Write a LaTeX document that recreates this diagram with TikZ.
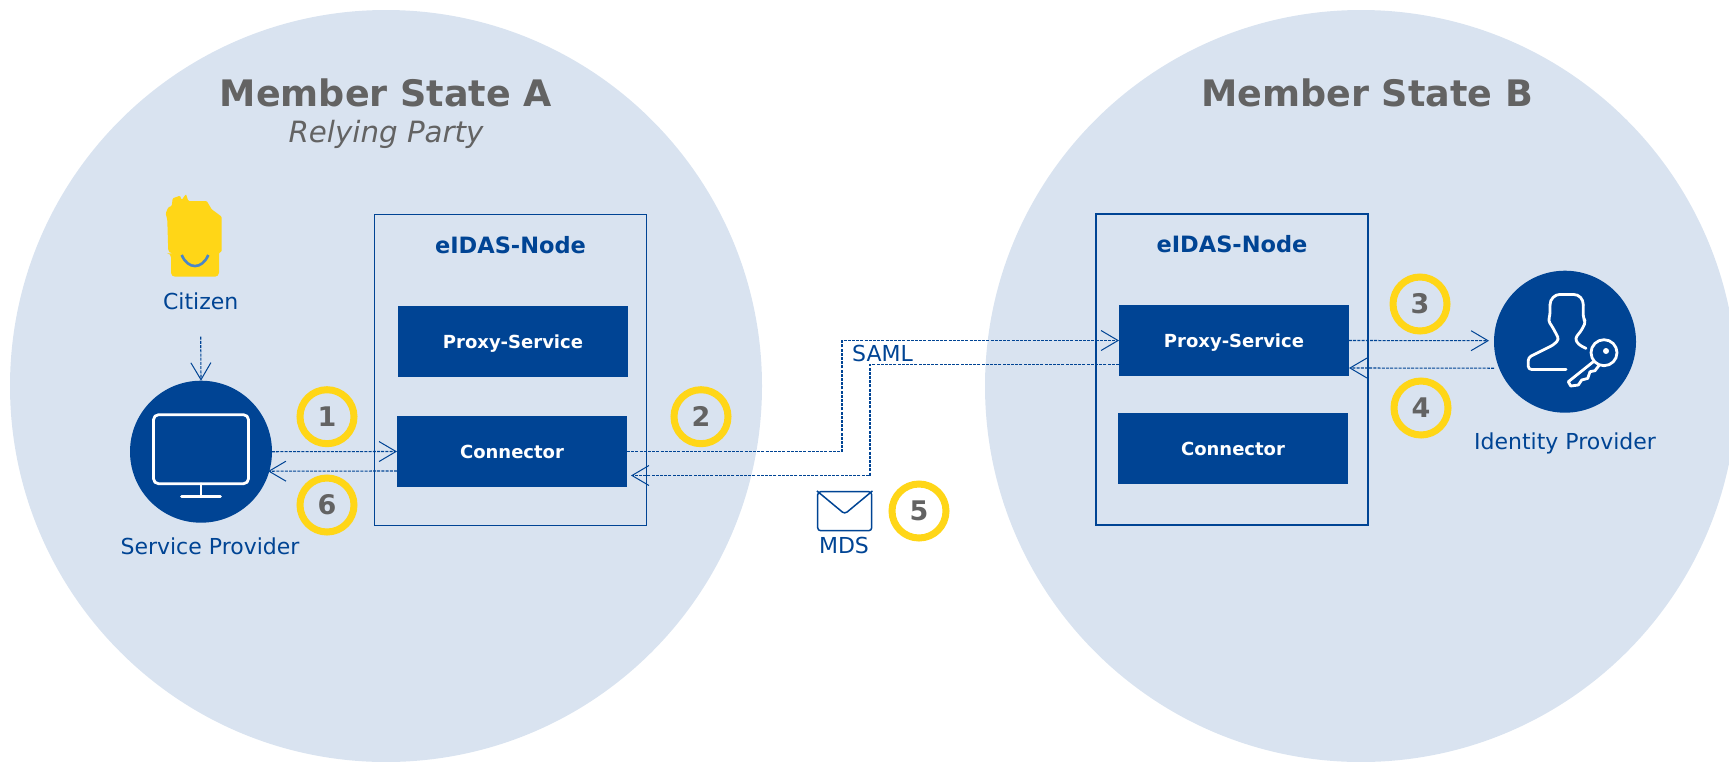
\documentclass[tikz,border=0pt]{standalone}
\usepackage{fontspec}
\setmainfont{DejaVu Sans}
\usetikzlibrary{arrows.meta}
\definecolor{eublue}{HTML}{004494}
\definecolor{euyellow}{HTML}{FFD617}
\definecolor{statefill}{HTML}{D9E3F0}
\definecolor{titlegrey}{HTML}{636363}
\definecolor{smileblue}{HTML}{4A86C8}
\tikzset{
    state/.style={circle,fill=statefill,minimum size=752pt,inner sep=0pt,outer sep=0pt},
    nodebox/.style={rectangle,draw=eublue,line width=1.5pt,minimum width=272pt,minimum height=311pt,inner sep=0pt},
    nodetitle/.style={text=eublue,inner sep=0pt,font=\fontsize{22.5}{26}\selectfont\bfseries},
    service/.style={rectangle,fill=eublue,text=white,font=\fontsize{18}{20}\selectfont\bfseries,text height=14pt,text depth=0pt,minimum width=230pt,minimum height=71pt,inner sep=0pt,outer sep=0pt},
    actor/.style={circle,fill=eublue,minimum size=142pt,inner sep=0pt,outer sep=0pt},
    badge/.style={circle,draw=euyellow,line width=7pt,minimum size=54pt,inner sep=0pt,text=titlegrey,font=\fontsize{27}{30}\selectfont\bfseries},
    caption/.style={text=eublue,font=\fontsize{22}{26}\selectfont,inner sep=0pt},
    heading/.style={text=titlegrey,font=\fontsize{36.5}{42}\selectfont\bfseries,inner sep=0pt},
    flow/.style={eublue,line width=1.1pt,dash pattern=on 3pt off 1.2pt,-{Straight Barb[length=17pt,width=20pt,line width=1pt]}},
    icon/.style={white,line width=2.8pt,line join=round,line cap=round}
}
\begin{document}
\begin{tikzpicture}[x=1pt,y=-1pt]
    \useasboundingbox (0,0) rectangle (1729,761);
    \clip (0,0) rectangle (1729,761);

    \node[state] (stateA) at (386,386) {};
    \node[state] (stateB) at (1361,386) {};

    \node[heading] (titleA) at (386,93) {Member State A};
    \node[text=titlegrey,inner sep=0pt,font=\fontsize{29.3}{34}\selectfont\itshape] (partyA) at (386,134) {Relying Party};
    \node[heading] (titleB) at (1367,93) {Member State B};

    \node[nodebox] (nodeA) at (510.5,370) {};
    \node[nodebox] (nodeB) at (1232,369.5) {};
    \node[nodetitle] (labelA) at (510.5,245) {eIDAS-Node};
    \node[nodetitle] (labelB) at (1232,244) {eIDAS-Node};

    \node[service] (proxyA) at (513,341.5) {Proxy-Service};
    \node[service] (connA) at (512,451.5) {Connector};
    \node[service] (proxyB) at (1234,340.5) {Proxy-Service};
    \node[service] (connB) at (1233,448.5) {Connector};

    \node[actor] (sp) at (201,451.7) {};
    \node[actor] (idp) at (1565,341.7) {};
    \node[caption] (spLabel) at (210,546) {Service Provider};
    \node[caption] (idpLabel) at (1565,443) {Identity Provider};
    \node[caption] (citizen) at (200.7,301) {Citizen};

    % citizen head
    \fill[euyellow,rounded corners=1pt] (168.3,253.3) -- (167.3,220) -- (165.7,213.3) -- (168.3,207.3) -- (171.7,206)
        -- (172.7,198.3) -- (180,195.7) -- (181.7,200) -- (186,194) -- (188.3,201) -- (206.7,201)
        -- (211.7,209.3) -- (221.7,216.7) -- (221.7,251.7) -- (219,252.7) -- (219,271.7)
        [rounded corners=4pt] -- (219,276.7) -- (171,276.7) -- (171,253.3) -- cycle;
    \draw[smileblue,line width=2.6pt] (181.7,255) .. controls (188,269.7) and (202,269.7) .. (208.3,255);

    % monitor
    \begin{scope}[shift={(sp.center)}]
        \draw[icon,rounded corners=5pt] (-47.5,-37) rectangle (47.5,32);
        \draw[icon] (0,32) -- (0,45);
        \draw[icon] (-19.5,45) -- (19.5,45);
    \end{scope}

    % person and key
    \begin{scope}[shift={(idp.center)}]
        \draw[icon,rounded corners=3pt] (1,27.7) -- (-36.7,27.7) -- (-36.7,15.7) -- (-11.7,3.3) -- (-6,-2.3)
            -- (-11.7,-13.3) -- (-16.7,-21) -- (-15,-26.7) -- (-15,-36.7);
        \draw[icon] (-15,-36.7) .. controls (-15,-43) and (-10,-47.3) .. (-5,-47.3) -- (8.3,-47.3)
            .. controls (14,-47.3) and (18.3,-43) .. (18.3,-36.7);
        \draw[icon,rounded corners=3pt] (18.3,-36.7) -- (18.3,-23.3) -- (20.7,-20) -- (16.7,-11.7) -- (10,-3.3)
            -- (13.3,2.7) -- (21,6.7);
        \draw[icon] (39,11) circle (13);
        \fill[white] (41,9.3) circle (3);
        \draw[icon] (28.3,20) -- (3.3,40) -- (5.7,44.3) -- (13.3,43.3) -- (16.7,38.3) -- (22.7,36.7)
            -- (25,30) -- (30,29) -- (34.3,23.3);
    \end{scope}

    % envelope
    \node[rectangle,draw=eublue,line width=1.5pt,rounded corners=3pt,minimum width=54pt,minimum height=39pt,inner sep=0pt] (mds) at (844.7,511.2) {};
    \draw[eublue,line width=1.5pt,rounded corners=3pt] (mds.north west) -- (844.7,514) -- (mds.north east);
    \node[caption] (mdsLabel) at (844,545) {MDS};
    \node[caption] (saml) at (882.5,353) {SAML};

    \node[badge] (b1) at (327,416.7) {1};
    \node[badge] (b2) at (701,416.7) {2};
    \node[badge] (b3) at (1420,304) {3};
    \node[badge] (b4) at (1421,408) {4};
    \node[badge] (b5) at (919,511) {5};
    \node[badge] (b6) at (327,505) {6};

    \draw[flow] ([yshift=-27pt]citizen.south) -- (sp.north);
    \draw[flow] (sp.east) -- (connA.west);
    \draw[flow] ([yshift=-19.5pt]connA.west) -- ([xshift=-4pt,yshift=-19.5pt]sp.east);
    \draw[flow] (connA.east) -- (842,451.5) -- (842,340.5) -- (proxyB.west);
    \draw[flow] ([yshift=-24pt]proxyB.west) -- (870,364.5) -- (870,475.5) -- ([xshift=4pt,yshift=-24pt]connA.east);
    \draw[flow] (proxyB.east) -- ([xshift=-5pt,yshift=1pt]idp.west);
    \draw[flow] ([yshift=-26.5pt]idp.west) -- ([yshift=-27.5pt]proxyB.east);
\end{tikzpicture}
\end{document}
